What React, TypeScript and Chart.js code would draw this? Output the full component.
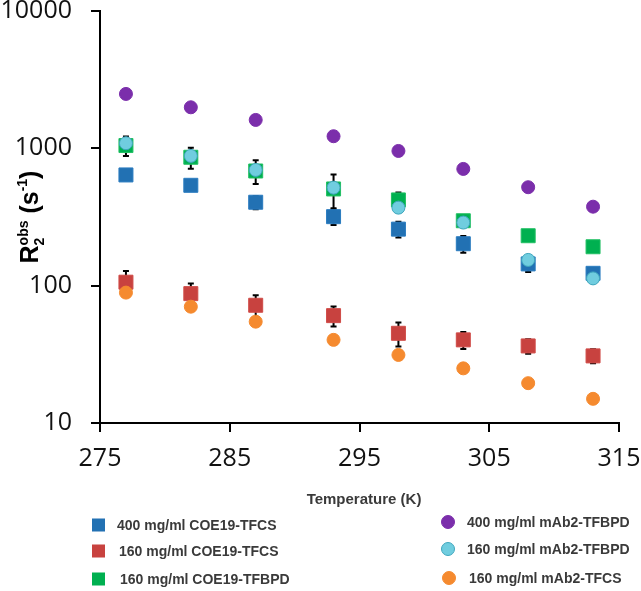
import React, { useEffect, useRef } from 'react';
import { Chart, registerables } from 'chart.js';

Chart.register(...registerables);

// ---------- data ----------
const temperatures = [277, 282, 287, 293, 298, 303, 308, 313];

const coe19Tfcs400 = [640, 538, 405, 318, 258, 202, 144, 123];
const coe19Tfcs400Err = [null, null, 45, 41, 34, 28, 18, null];

const coe19Tfcs160 = [106, 87.5, 72, 60.5, 45, 40.3, 36.4, 30.8];
const coe19Tfcs160Err = [22, 16, 13, 10, 9, 5.7, 4.4, 3.6];

const coe19Tfbpd160 = [1048, 861, 684, 506, 421, 297, 231, 192];
const coe19Tfbpd160Err = [170, 150, 135, 140, 55, null, null, null];

const mab2Tfbpd400 = [2490, 1990, 1610, 1225, 957, 708, 521, 376];
const mab2Tfbpd160 = [1089, 881, 696, 517, 370, 288, 154, 113];
const mab2Tfcs160 = [89, 70.3, 54.7, 40.3, 31.3, 25, 19.5, 15];

const xTicks = [275, 285, 295, 305, 315];
const yTicks = [10, 100, 1000, 10000];

const seriesLabels = [
  '400 mg/ml COE19-TFCS',
  '160 mg/ml COE19-TFCS',
  '160 mg/ml COE19-TFBPD',
  '400 mg/ml mAb2-TFBPD',
  '160 mg/ml mAb2-TFBPD',
  '160 mg/ml mAb2-TFCS',
];

// ---------- styles ----------
const BLUE = '#2271B3';
const RED = '#C8423F';
const GREEN = '#00B050';
const PURPLE = '#7B2EAB';
const CYAN = '#70CDDF';
const CYAN_EDGE = '#3FA6BD';
const ORANGE = '#F58A2F';

const errorSets = [
  { values: coe19Tfcs400, errors: coe19Tfcs400Err },
  { values: coe19Tfcs160, errors: coe19Tfcs160Err },
  { values: coe19Tfbpd160, errors: coe19Tfbpd160Err },
];

const errorBarPlugin = {
  id: 'errorBars',
  beforeDatasetsDraw(chart: any) {
    const { ctx } = chart;
    const xs = chart.scales.x;
    const ys = chart.scales.y;
    ctx.save();
    ctx.strokeStyle = '#000';
    ctx.lineWidth = 2;
    errorSets.forEach(({ values, errors }) => {
      errors.forEach((e: number | null, i: number) => {
        if (e == null) return;
        const px = xs.getPixelForValue(temperatures[i]);
        const top = ys.getPixelForValue(values[i] + e);
        const bot = ys.getPixelForValue(values[i] - e);
        ctx.beginPath();
        ctx.moveTo(px, top);
        ctx.lineTo(px, bot);
        ctx.moveTo(px - 3, top);
        ctx.lineTo(px + 3, top);
        ctx.moveTo(px - 3, bot);
        ctx.lineTo(px + 3, bot);
        ctx.stroke();
      });
    });
    ctx.restore();
  },
};

const legendItems = [
  { label: seriesLabels[0], color: BLUE, edge: BLUE, shape: 'rect', mx: 98.5, my: 525, tx: 117 },
  { label: seriesLabels[1], color: RED, edge: RED, shape: 'rect', mx: 98.5, my: 551, tx: 119 },
  { label: seriesLabels[2], color: GREEN, edge: GREEN, shape: 'rect', mx: 98.5, my: 579, tx: 120 },
  { label: seriesLabels[3], color: PURPLE, edge: PURPLE, shape: 'circle', mx: 448, my: 522, tx: 467 },
  { label: seriesLabels[4], color: CYAN, edge: CYAN_EDGE, shape: 'circle', mx: 448, my: 549, tx: 467 },
  { label: seriesLabels[5], color: ORANGE, edge: ORANGE, shape: 'circle', mx: 449, my: 578, tx: 469 },
];

const annotationPlugin = {
  id: 'annotations',
  afterDraw(chart: any) {
    const { ctx } = chart;
    const area = chart.chartArea;
    ctx.save();

    // ---- y axis title: R2^obs (s^-1) ----
    const big = 'bold 25px "Liberation Sans", Arial, sans-serif';
    const small = 'bold 14px "Liberation Sans", Arial, sans-serif';
    ctx.font = big;
    const wR = ctx.measureText('R').width;
    const wOpen = ctx.measureText(' (s').width;
    const wClose = ctx.measureText(')').width;
    ctx.font = small;
    const wObs = ctx.measureText('obs').width;
    const wTwo = ctx.measureText('2').width;
    const wExp = ctx.measureText('-1').width;
    const total = wR + Math.max(wObs, wTwo) + wOpen + wExp + wClose;
    const cy = (area.top + area.bottom) / 2;
    ctx.translate(38, cy + total / 2);
    ctx.rotate(-Math.PI / 2);
    ctx.fillStyle = '#000';
    ctx.textBaseline = 'alphabetic';
    ctx.textAlign = 'left';
    let cx = 0;
    ctx.font = big;
    ctx.fillText('R', cx, 0);
    cx += wR;
    ctx.font = small;
    ctx.fillText('obs', cx, -10);
    ctx.fillText('2', cx, 6);
    cx += Math.max(wObs, wTwo);
    ctx.font = big;
    ctx.fillText(' (s', cx, 0);
    cx += wOpen;
    ctx.font = small;
    ctx.fillText('-1', cx, -11);
    cx += wExp;
    ctx.font = big;
    ctx.fillText(')', cx, 0);
    ctx.setTransform(1, 0, 0, 1, 0, 0);

    // ---- x axis title ----
    ctx.font = 'bold 15px "Liberation Sans", Arial, sans-serif';
    ctx.fillStyle = '#3a3a3a';
    ctx.textAlign = 'center';
    ctx.textBaseline = 'middle';
    ctx.fillText('Temperature (K)', 364, 500);

    // ---- legend ----
    ctx.font = 'bold 14px "Liberation Sans", Arial, sans-serif';
    ctx.textAlign = 'left';
    legendItems.forEach((it) => {
      ctx.fillStyle = it.color;
      ctx.strokeStyle = it.edge;
      ctx.lineWidth = 1;
      if (it.shape === 'rect') {
        ctx.fillRect(it.mx - 6.5, it.my - 6.5, 13, 13);
      } else {
        ctx.beginPath();
        ctx.arc(it.mx, it.my, 6.5, 0, Math.PI * 2);
        ctx.fill();
        ctx.stroke();
      }
      ctx.fillStyle = '#3a3a3a';
      ctx.fillText(it.label, it.tx, it.my + 1);
    });

    ctx.restore();
  },
};

function makeDataset(
  label: string,
  values: number[],
  fill: string,
  edge: string,
  style: string,
  radius: number,
  order: number
) {
  return {
    label,
    data: temperatures.map((t, i) => ({ x: t, y: values[i] })),
    backgroundColor: fill,
    borderColor: edge,
    borderWidth: 1,
    pointStyle: style,
    pointRadius: radius,
    pointHoverRadius: radius,
    showLine: false,
    order,
  };
}

export default function App() {
  const canvasRef = useRef<HTMLCanvasElement | null>(null);

  useEffect(() => {
    if (!canvasRef.current) return;
    const tickFont = { family: '"Open Sans", sans-serif', size: 25, lineHeight: 1.2 };
    const chart = new Chart(canvasRef.current, {
      type: 'scatter',
      data: {
        datasets: [
          makeDataset(seriesLabels[0], coe19Tfcs400, BLUE, '#2a7cc0', 'rect', 9.9, 5),
          makeDataset(seriesLabels[1], coe19Tfcs160, RED, '#d04c48', 'rect', 9.9, 5),
          makeDataset(seriesLabels[2], coe19Tfbpd160, GREEN, '#22c064', 'rect', 9.9, 4),
          makeDataset(seriesLabels[3], mab2Tfbpd400, PURPLE, PURPLE, 'circle', 6.5, 2),
          makeDataset(seriesLabels[4], mab2Tfbpd160, CYAN, CYAN_EDGE, 'circle', 6.5, 1),
          makeDataset(seriesLabels[5], mab2Tfcs160, ORANGE, ORANGE, 'circle', 6.5, 1),
        ] as any,
      },
      options: {
        animation: false,
        responsive: false,
        devicePixelRatio: 1,
        layout: { padding: { left: 0, top: 11, right: 22, bottom: 0 } },
        plugins: {
          legend: { display: false },
          tooltip: { enabled: false },
          title: { display: false },
        },
        scales: {
          x: {
            type: 'linear',
            min: 275,
            max: 315,
            afterBuildTicks: (scale: any) => {
              scale.ticks = xTicks.map((v) => ({ value: v }));
            },
            afterFit: (scale: any) => {
              scale.height = 168;
              scale.paddingLeft = 0;
              scale.paddingRight = 0;
            },
            ticks: {
              font: tickFont,
              color: '#111',
              padding: 12,
              maxRotation: 0,
              autoSkip: false,
              callback: (v: any) => String(v),
            },
            grid: {
              drawOnChartArea: false,
              drawTicks: true,
              tickLength: 9,
              tickWidth: 2,
              tickColor: '#000',
              color: '#000',
              lineWidth: 2,
            },
            border: { display: true, color: '#000', width: 2 },
          },
          y: {
            type: 'logarithmic',
            min: 10,
            max: 10000,
            afterBuildTicks: (scale: any) => {
              scale.ticks = yTicks.map((v) => ({ value: v }));
            },
            afterFit: (scale: any) => {
              scale.width = 100;
              scale.paddingTop = 0;
              scale.paddingBottom = 0;
            },
            ticks: {
              font: tickFont,
              color: '#111',
              padding: 19,
              autoSkip: false,
              callback: (v: any) => String(v),
            },
            grid: {
              drawOnChartArea: false,
              drawTicks: true,
              tickLength: 9,
              tickWidth: 2,
              tickColor: '#000',
              color: '#000',
              lineWidth: 2,
            },
            border: { display: true, color: '#000', width: 2 },
          },
        },
      } as any,
      plugins: [errorBarPlugin, annotationPlugin],
    });
    return () => chart.destroy();
  }, []);

  return (
    <div style={{ position: 'absolute', left: 0, top: 0, width: 641, height: 591, background: '#fff' }}>
      <canvas ref={canvasRef} width={641} height={591} style={{ display: 'block' }} />
    </div>
  );
}
